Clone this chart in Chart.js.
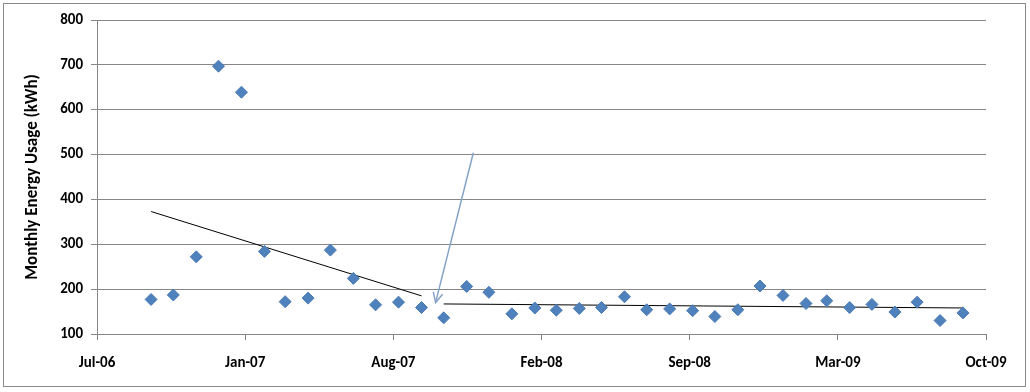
<!DOCTYPE html>
<html>
<head>
<meta charset="utf-8">
<script src="https://cdn.jsdelivr.net/npm/chart.js@4"></script>
<style>
  body { margin: 0; background: #fff; }
  #wrap { position: relative; width: 1030px; height: 392px; }
  #frame { position: absolute; left: 3px; top: 3px; width: 1023px; height: 384px; border: 1px solid #8a8a8a; box-sizing: border-box; }
  #myChart { position: absolute; left: 0; top: 0; }
</style>
</head>
<body>
<div id="wrap">
  <div id="frame"></div>
  <canvas id="myChart" width="1030" height="392"></canvas>
</div>
<script>
// axis runs from 1 Jul 2006 in steps of 200 days
const axisStart = '2006-07-01';
const tickLabels = ['Jul-06', 'Jan-07', 'Aug-07', 'Feb-08', 'Sep-08', 'Mar-09', 'Oct-09'];

const readingDates = [
  '2006-09-12', '2006-10-12', '2006-11-12', '2006-12-12',
  '2007-01-12', '2007-02-12', '2007-03-12', '2007-04-12', '2007-05-12', '2007-06-12',
  '2007-07-12', '2007-08-12', '2007-09-12', '2007-10-12', '2007-11-12', '2007-12-12',
  '2008-01-12', '2008-02-12', '2008-03-12', '2008-04-12', '2008-05-12', '2008-06-12',
  '2008-07-12', '2008-08-12', '2008-09-12', '2008-10-12', '2008-11-12', '2008-12-12',
  '2009-01-12', '2009-02-12', '2009-03-12', '2009-04-12', '2009-05-12', '2009-06-12',
  '2009-07-12', '2009-08-12', '2009-09-12'
];
const usage = [
  177, 187, 272, 697,
  639, 284, 172, 180, 287, 224,
  165, 171, 159, 136, 206, 193,
  145, 158, 153, 157, 159, 183,
  154, 156, 152, 139, 154, 207,
  186, 168, 174, 159, 166, 149,
  171, 130, 147
];

// trend lines, before and after the change
const trendBeforeDates = ['2006-09-12', '2007-09-12'];
const trendBeforeValues = [373, 185];
const trendAfterDates = ['2007-10-12', '2009-09-12'];
const trendAfterValues = [167, 158];

// arrow pointing at the change
const arrowDates = ['2007-11-21', '2007-10-01'];
const arrowValues = [504, 170];

function dayNum(s) {
    let d = s.split('-');
    let start = axisStart.split('-');
    return (Date.UTC(d[0], d[1] - 1, d[2]) - Date.UTC(start[0], start[1] - 1, start[2])) / 86400000;
}

function toPoints(dates, values) {
    let pts = [];
    for (let i = 0; i < dates.length; i++) {
        pts.push({x: dayNum(dates[i]), y: values[i]});
    }
    return pts;
}

const fontFam = 'Carlito, Lato, "DejaVu Sans", sans-serif';
const gridGrey = '#868686';

const arrowHead = {
    id: 'arrowHead',
    afterDatasetsDraw(chart) {
        const meta = chart.getDatasetMeta(3);
        const p0 = meta.data[0];
        const p1 = meta.data[1];
        const ang = Math.atan2(p1.y - p0.y, p1.x - p0.x);
        const len = 11;
        const ctx = chart.ctx;
        ctx.save();
        ctx.strokeStyle = '#86a2c6';
        ctx.lineWidth = 1.5;
        ctx.beginPath();
        ctx.moveTo(p1.x - len * Math.cos(ang - 0.45), p1.y - len * Math.sin(ang - 0.45));
        ctx.lineTo(p1.x, p1.y);
        ctx.lineTo(p1.x - len * Math.cos(ang + 0.45), p1.y - len * Math.sin(ang + 0.45));
        ctx.stroke();
        ctx.restore();
    }
};

var config = {
    type: 'scatter',
    data: {
        datasets: [
            {
                data: toPoints(readingDates, usage),
                pointStyle: 'rectRot',
                pointRadius: 6,
                backgroundColor: '#4f81bd',
                borderColor: '#4a7ab4',
                borderWidth: 1,
                order: 0
            },
            {
                data: toPoints(trendBeforeDates, trendBeforeValues),
                showLine: true,
                pointRadius: 0,
                borderColor: '#000',
                borderWidth: 1,
                order: 1
            },
            {
                data: toPoints(trendAfterDates, trendAfterValues),
                showLine: true,
                pointRadius: 0,
                borderColor: '#000',
                borderWidth: 1,
                order: 1
            },
            {
                data: toPoints(arrowDates, arrowValues),
                showLine: true,
                pointRadius: 0,
                borderColor: '#86a2c6',
                borderWidth: 1.5,
                order: 1
            }
        ]
    },
    options: {
        responsive: false,
        animation: false,
        events: [],
        layout: {padding: {left: 19, right: 44, top: 20, bottom: 0}},
        plugins: {legend: {display: false}, tooltip: {enabled: false}},
        scales: {
            x: {
                type: 'linear',
                min: 0,
                max: 1200,
                afterBuildTicks: (scale) => {
                    scale.ticks = tickLabels.map((t, i) => ({value: i * 200}));
                },
                afterFit: (scale) => { scale.height = 58; },
                ticks: {
                    callback: (v, i) => tickLabels[i],
                    color: '#000',
                    font: {family: fontFam, size: 15, weight: 'bold'},
                    padding: 14,
                    maxRotation: 0,
                    autoSkip: false
                },
                grid: {drawOnChartArea: false, drawTicks: true, tickLength: 6, color: gridGrey},
                border: {display: true, color: gridGrey, width: 1}
            },
            y: {
                min: 100,
                max: 800,
                afterFit: (scale) => { scale.width = 78; },
                ticks: {
                    stepSize: 100,
                    color: '#000',
                    font: {family: fontFam, size: 15, weight: 'bold'},
                    padding: 8
                },
                title: {
                    display: true,
                    text: 'Monthly Energy Usage (kWh)',
                    color: '#000',
                    font: {family: fontFam, size: 17, weight: 'bold'},
                    padding: {top: 4, bottom: 0}
                },
                grid: {color: gridGrey, tickLength: 6},
                border: {display: true, color: gridGrey, width: 1}
            }
        }
    },
    plugins: [arrowHead]
};

myChart = new Chart(document.getElementById('myChart'), config);
</script>
</body>
</html>
